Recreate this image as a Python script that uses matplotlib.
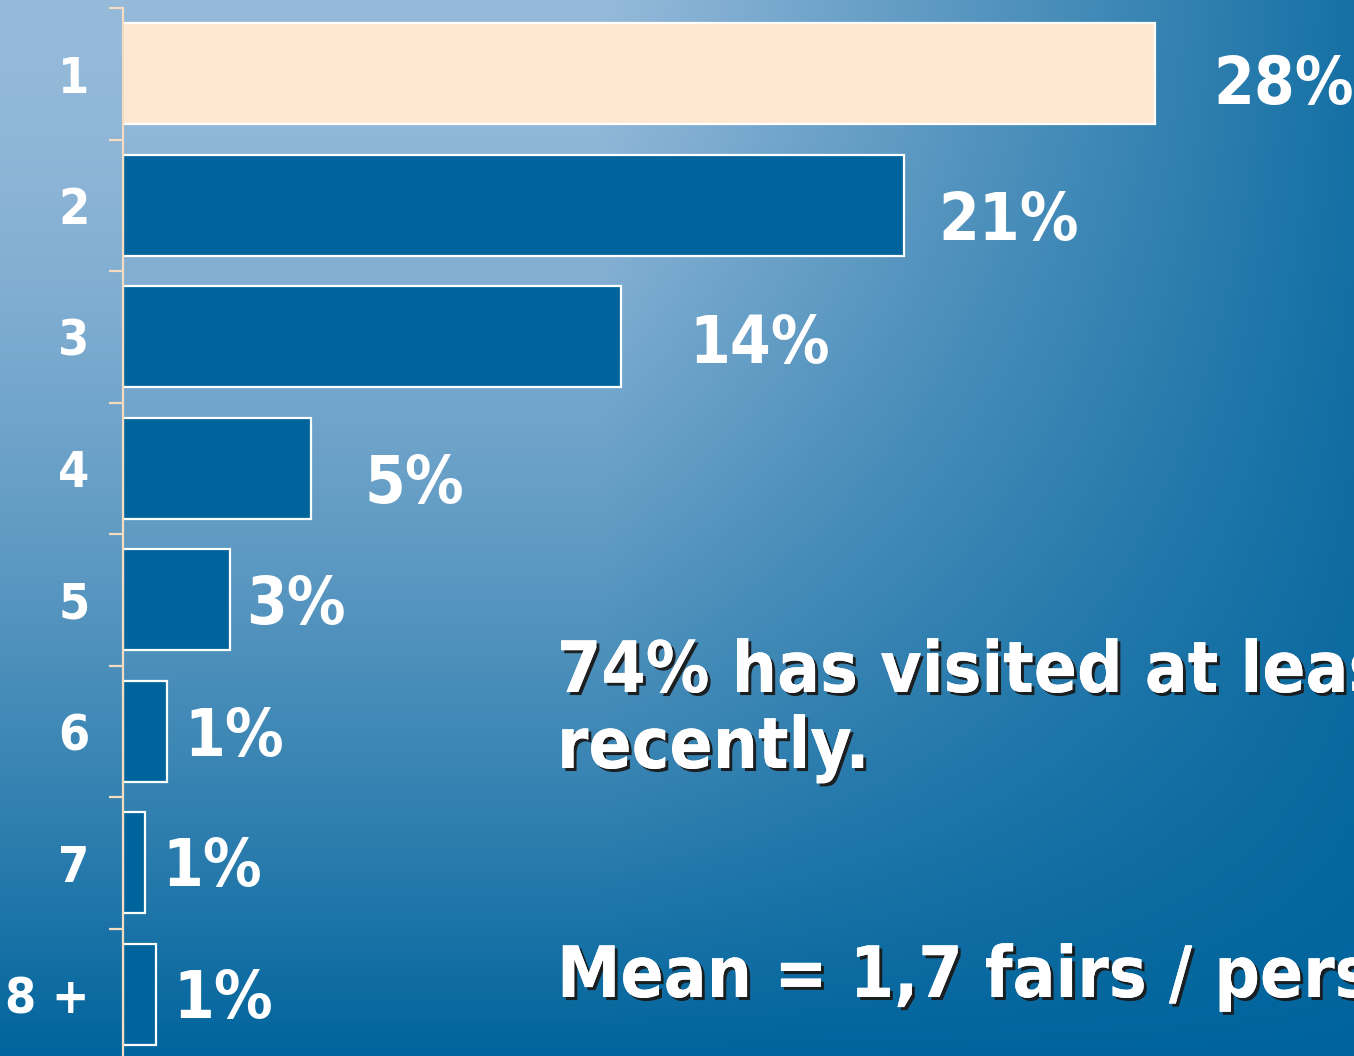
import matplotlib.pyplot as plt
import matplotlib.patheffects as pe
import numpy as np

# number of fairs visited -> share of respondents
categories = ['1', '2', '3', '4', '5', '6', '7', '8 +']
shares = [28.0, 21.2, 13.5, 5.1, 2.9, 1.2, 0.6, 0.9]
pct_labels = ['28%', '21%', '14%', '5%', '3%', '1%', '1%', '1%']
# hand placed label nudges (x px, y px) like in the slide
label_nudge = [(58, 12), (34, 17), (69, 8), (53, 17), (16, 6), (17, 7), (17, 5), (17, 6)]

note_lines = ['74% has visited at least one fair', 'recently.']
note_mean = 'Mean = 1,7 fairs / person'

W, H = 1354, 1056
fig = plt.figure(figsize=(W / 100, H / 100), dpi=100)

# background gradient: light top-left, darker to the right and to the bottom
bg = fig.add_axes([0, 0, 1, 1])
yy, xx = np.mgrid[0:H, 0:W]
tv = (yy / H) ** 1.5
th = 0.85 * np.clip((xx - 600) / 750, 0, 1)
t = 1 - (1 - tv) * (1 - th)
light = np.array([150, 186, 218]) / 255
dark = np.array([0, 100, 156]) / 255
img = light[None, None, :] + (dark - light)[None, None, :] * t[..., None]
bg.imshow(img, aspect='auto', extent=[0, W, H, 0])
bg.axis('off')

# main axes: 8 rows of ~131.5 px starting at y=8
top = 8
row = 131.5
ax = fig.add_axes([123 / W, 1 - (top + 8 * row) / H, 1 - 123 / W, 8 * row / H])
ax.patch.set_alpha(0)
px_per_unit = 36.86
ax.set_xlim(0, (W - 123) / px_per_unit)
ax.set_ylim(7.5, -0.5)

colors = ['#FFE8D2'] + ['#00649C'] * 7
y = np.arange(len(categories))
ax.barh(y, shares, height=0.77, color=colors, edgecolor='white', linewidth=1.6)

sans = dict(family='DejaVu Sans', fontstretch='condensed', fontweight='bold', color='white')
for i, (v, lab) in enumerate(zip(shares, pct_labels)):
    dx, dy = label_nudge[i]
    ax.annotate(lab, (v, i), xytext=(dx * 0.72, -dy * 0.72), textcoords='offset points',
                ha='left', va='center', fontsize=47, **sans)

# axis styling
ax.set_yticks(y)
ax.set_yticklabels(categories, fontsize=36, **sans)
ax.set_yticks(np.arange(-0.5, 8, 1), minor=True)
ax.tick_params(axis='y', which='major', length=0, pad=24)
ax.tick_params(axis='y', which='minor', length=10, width=1.6, color='#F5DCC0', direction='out')
ax.set_xticks([])
for s in ['top', 'right', 'bottom']:
    ax.spines[s].set_visible(False)
ax.spines['left'].set_color('#F5DCC0')
ax.spines['left'].set_linewidth(1.6)

shadow = [pe.withSimplePatchShadow(offset=(2.2, -2.2), shadow_rgbFace='#1a1a1a', alpha=0.95), pe.Normal()]
for k, line in enumerate(note_lines):
    fig.text(557 / W, 1 - (692 + 76 * k) / H, line, fontsize=51, va='baseline', ha='left',
             path_effects=shadow, **sans)
fig.text(557 / W, 1 - 997 / H, note_mean, fontsize=51, va='baseline', ha='left',
         path_effects=shadow, **sans)

fig.savefig('out.png', dpi=100)
